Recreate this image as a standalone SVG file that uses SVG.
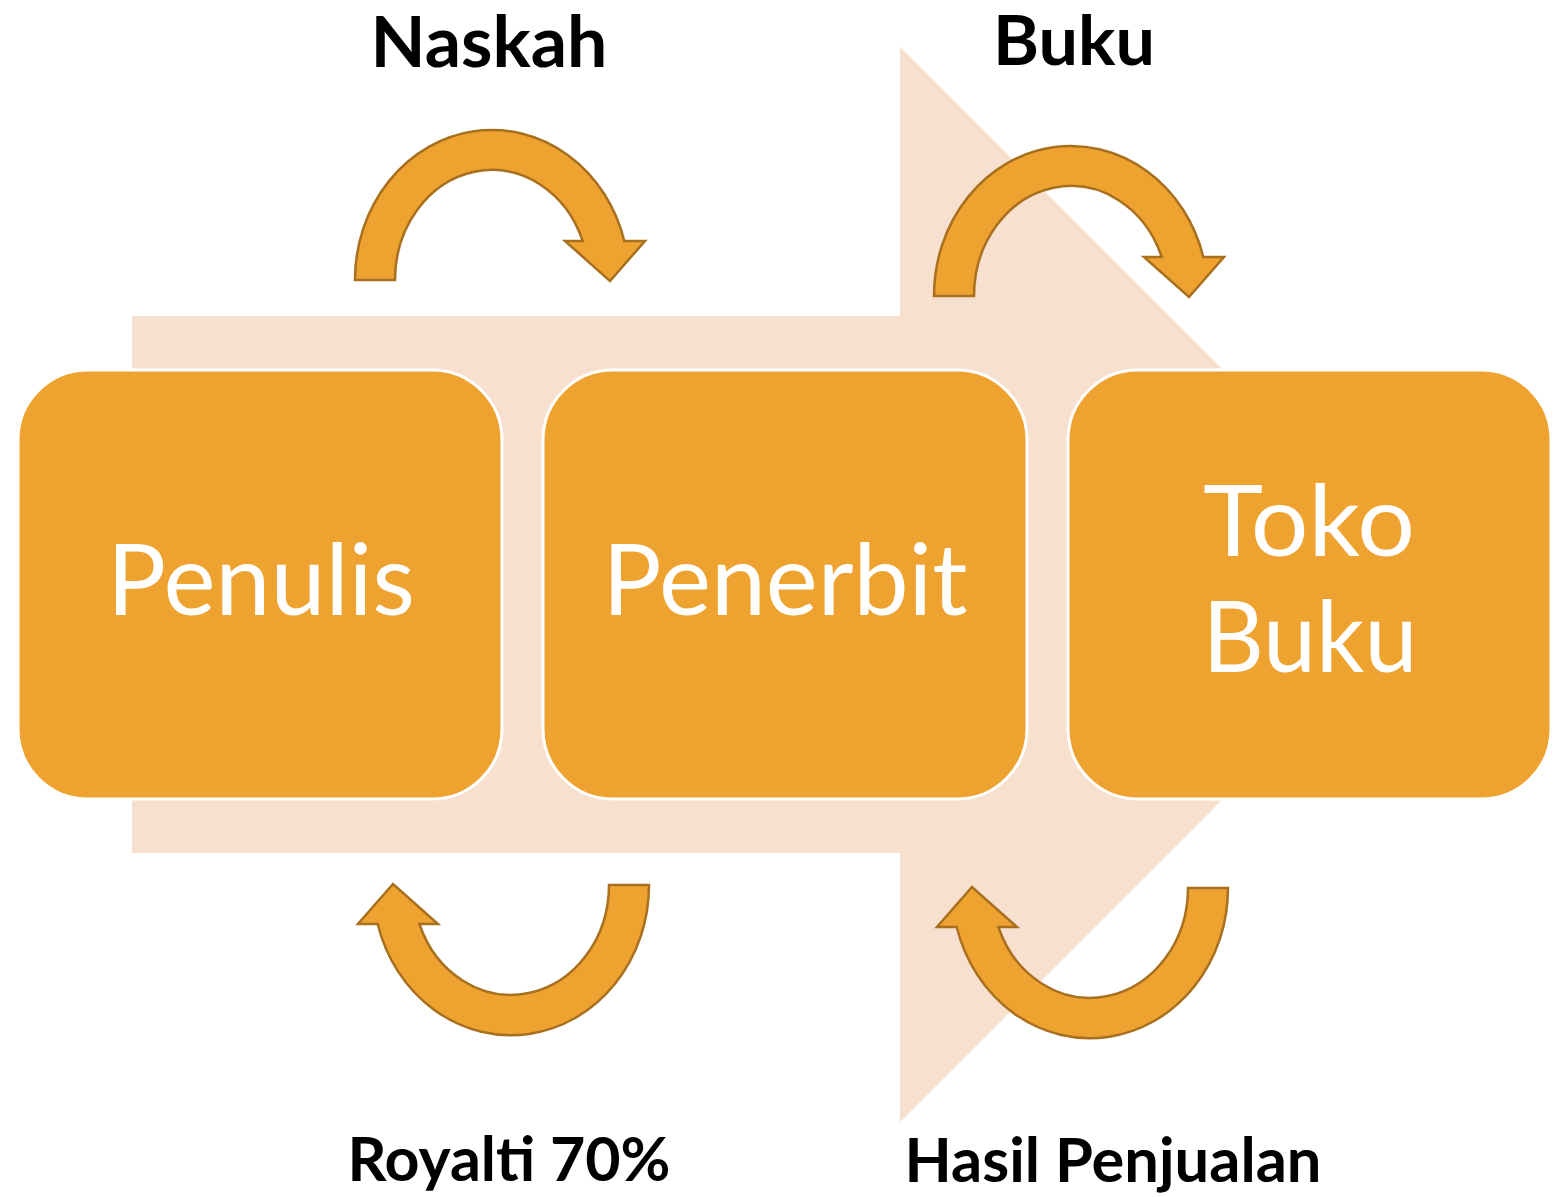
<svg xmlns="http://www.w3.org/2000/svg" width="1561" height="1197" viewBox="0 0 1561 1197">
<style>
.bg{fill:#F8E0CF}
.box{fill:#EEA330;stroke:#FFFFFF;stroke-width:3}
.arc{fill:#EEA330;stroke:#A8701E;stroke-width:2.5;stroke-linejoin:miter}
.lbl{font-family:Lato,"Open Sans","Liberation Sans",sans-serif;font-weight:bold;fill:#000000;text-anchor:middle}
.nt{font-family:Lato,"Open Sans","Liberation Sans",sans-serif;fill:#FFFFFF;text-anchor:middle;font-size:98px}
</style>
<rect width="1561" height="1197" fill="#FFFFFF"/>
<path class="bg" d="M132,316 L900,316 L900,47 L1437.5,584.5 L900,1122 L900,853 L132,853 Z"/>
<g id="penulis">
<rect class="box" x="18" y="370" width="484" height="429" rx="70" ry="70"/>
<text class="nt" x="261" y="615" textLength="308" lengthAdjust="spacingAndGlyphs">Penulis</text>
</g>
<g id="penerbit">
<rect class="box" x="543" y="370" width="484" height="429" rx="70" ry="70"/>
<text class="nt" x="785" y="615" textLength="365" lengthAdjust="spacingAndGlyphs">Penerbit</text>
</g>
<g id="tokobuku">
<rect class="box" x="1068" y="370" width="483" height="429" rx="70" ry="70"/>
<text class="nt" x="1309" y="556" textLength="212" lengthAdjust="spacingAndGlyphs">Toko</text>
<text class="nt" x="1310" y="672" textLength="215" lengthAdjust="spacingAndGlyphs">Buku</text>
</g>
<g id="connectors">
<path class="arc" d="M355,280 A137,150 0 0 1 624.3,241 L645,241 L610,281 L565,241 L582.7,241 A97,110 0 0 0 395,280 Z"/>
<path class="arc" d="M934,296 A137,150 0 0 1 1203.3,257 L1224,257 L1189,297 L1144,257 L1161.7,257 A97,110 0 0 0 974,296 Z"/>
<path class="arc" d="M649,885 A138,150 0 0 1 377.7,924 L358,924 L393,884 L438,924 L419.4,924 A98,110 0 0 0 609,885 Z"/>
<path class="arc" d="M1228,888 A138,150 0 0 1 956.7,927 L937,927 L972,887 L1017,927 L998.4,927 A98,110 0 0 0 1188,888 Z"/>
</g>
<g id="labels">
<text class="lbl" x="489" y="67" font-size="70" textLength="237" lengthAdjust="spacingAndGlyphs">Naskah</text>
<text class="lbl" x="1074" y="65" font-size="68" textLength="162" lengthAdjust="spacingAndGlyphs">Buku</text>
<text class="lbl" x="509" y="1181" font-size="62" textLength="323" lengthAdjust="spacingAndGlyphs">Royalti 70%</text>
<text class="lbl" x="1113" y="1182" font-size="62" textLength="417" lengthAdjust="spacingAndGlyphs">Hasil Penjualan</text>
</g>
</svg>
